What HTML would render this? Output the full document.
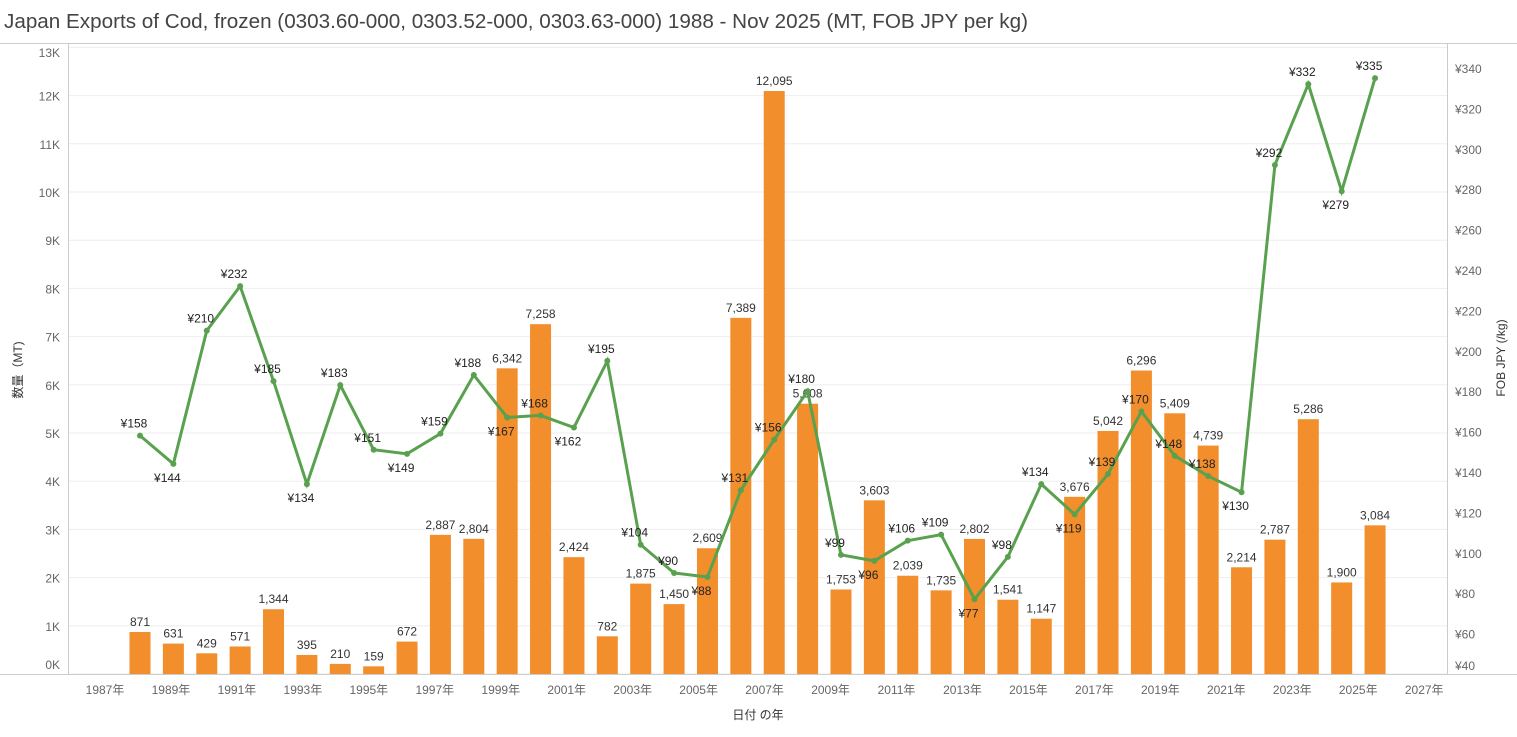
<!DOCTYPE html>
<html><head><meta charset="utf-8"><style>
body{margin:0;background:#fff;}
svg text{font-family:"Liberation Sans","Noto Sans CJK JP",sans-serif;}
</style></head><body>
<svg id="s" width="1517" height="732" xmlns="http://www.w3.org/2000/svg"></svg>
<script>
const s=document.getElementById('s');let h='';
const bars=[871,631,429,571,1344,395,210,159,672,2887,2804,6342,7258,2424,782,1875,1450,2609,7389,12095,5608,1753,3603,2039,1735,2802,1541,1147,3676,5042,6296,5409,4739,2214,2787,5286,1900,3084];
const pr=[158,144,210,232,185,134,183,151,149,159,188,167,168,162,195,104,90,88,131,156,180,99,96,106,109,77,98,134,119,139,170,148,138,130,292,332,279,335];
const X=y=>105+(y-1987)*32.98, XB=y=>140+(y-1988)*33.38, YL=v=>674-v*0.0482, YR=v=>674-(v-40)*2.02;
h+=`<text x="4" y="28" font-size="20" fill="#444" textLength="1024" lengthAdjust="spacingAndGlyphs">Japan Exports of Cod, frozen (0303.60-000, 0303.52-000, 0303.63-000) 1988 - Nov 2025 (MT, FOB JPY per kg)</text>`;
h+=`<line x1="0" y1="43.5" x2="1517" y2="43.5" stroke="#ccc"/>`;
for(let k=0;k<=13;k++){const y=YL(k*1000);h+=`<line x1="68" x2="1447" y1="${y}" y2="${y}" stroke="#eee"/>`;
h+=`<text x="60" y="${Math.min(Math.max(y+5,57),669)}" font-size="12" fill="#666" text-anchor="end">${k}K</text>`;}
for(let v=40;v<=340;v+=20){const y=YR(v);h+=`<text x="1455" y="${Math.min(y+5,670)}" font-size="12" fill="#666">¥${v}</text>`;}
h+=`<line x1="68.5" y1="44" x2="68.5" y2="674" stroke="#ccc"/><line x1="1447.5" y1="44" x2="1447.5" y2="674" stroke="#ccc"/><line x1="0" y1="674.5" x2="1517" y2="674.5" stroke="#ccc"/>`;
for(let y=1987;y<=2027;y+=2)h+=`<text x="${X(y)}" y="694" font-size="12" fill="#666" text-anchor="middle">${y}年</text>`;
h+=`<text x="758" y="719" font-size="12" fill="#333" text-anchor="middle">日付 の年</text>`;
h+=`<text transform="translate(22,370) rotate(-90)" font-size="12" fill="#333" text-anchor="middle">数量（MT)</text>`;
h+=`<text transform="translate(1505,358) rotate(-90)" font-size="12" fill="#333" text-anchor="middle">FOB JPY (/kg)</text>`;
bars.forEach((v,i)=>{const x=XB(1988+i),y=YL(v);h+=`<rect x="${x-10.5}" y="${y}" width="21" height="${674-y}" fill="#f28e2b"/>`;
h+=`<text x="${x}" y="${y-6}" font-size="12" fill="#333" text-anchor="middle">${v.toLocaleString('en-US')}</text>`;});
let p='';pr.forEach((v,i)=>{p+=(i?'L':'M')+XB(1988+i)+','+YR(v);});
h+=`<path d="${p}" fill="none" stroke="#59a14f" stroke-width="3"/>`;
pr.forEach((v,i)=>{const x=XB(1988+i),y=YR(v);h+=`<circle cx="${x}" cy="${y}" r="3" fill="#59a14f"/>`;
const a=pr[i-1]??v,b=pr[i+1]??v;const below=v<a&&v<b;const ty=below?y+18:y-8;
h+=`<text x="${x-6}" y="${ty}" font-size="12" fill="#222" text-anchor="middle">¥${v}</text>`;});
s.innerHTML=h;
</script></body></html>
